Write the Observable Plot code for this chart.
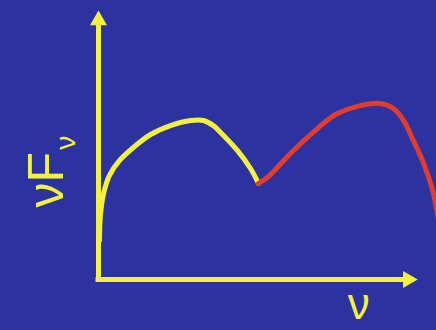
<!DOCTYPE html>
<html><head><meta charset="utf-8">
<script src="https://cdn.jsdelivr.net/npm/d3@7"></script>
<script src="https://cdn.jsdelivr.net/npm/@observablehq/plot@0.6"></script>
<style>html,body{margin:0;padding:0;background:#2d32a1;overflow:hidden}</style>
</head><body><div id="chart"></div>
<script>
// synchrotron hump (yellow)
const syncNu   = [0.03, 0.06, 0.16, 0.34, 0.66, 1.09, 1.63, 2.25, 2.88, 3.28, 3.59, 3.91, 4.34, 4.75, 5.00];
const syncFlux = [1.44, 2.37, 3.19, 3.85, 4.41, 4.89, 5.37, 5.70, 5.89, 5.89, 5.70, 5.33, 4.78, 4.11, 3.56];
// inverse-Compton hump (red)
const icNu   = [5.00, 5.28, 6.00, 6.84, 7.41, 8.19, 8.81, 9.22, 9.53, 9.84, 10.16, 10.44, 10.63, 10.81];
const icFlux = [3.56, 3.78, 4.67, 5.59, 6.11, 6.44, 6.52, 6.33, 5.89, 5.15, 4.30, 3.30, 2.19, 1.07];
// axis labels
const xLabel = "ν";
const yLabel = "νF";
const ySub = "ν";

const bg = "#2d32a1", yellow = "#f2f23e", red = "#e23c2c";
const sync = syncNu.map((x, i) => ({x, y: syncFlux[i]}));
const ic = icNu.map((x, i) => ({x, y: icFlux[i]}));

const chart = Plot.plot({
  width: 436, height: 330, margin: 0,
  x: {domain: [0, 10], range: [98, 418], axis: null},
  y: {domain: [0, 10], range: [279, 9], axis: null},
  style: {background: bg, overflow: "hidden"},
  marks: [
    Plot.line(sync, {x: "x", y: "y", stroke: yellow, strokeWidth: 5, curve: "catmull-rom"}),
    Plot.line(ic, {x: "x", y: "y", stroke: red, strokeWidth: 5, curve: "catmull-rom"}),
    Plot.ruleX([0], {y1: 0, y2: 9.5, stroke: yellow, strokeWidth: 5, strokeLinecap: "square"}),
    Plot.ruleY([0], {x1: 0, x2: 9.6, stroke: yellow, strokeWidth: 5, strokeLinecap: "square"}),
    Plot.dot([{x: 0, y: 9.6}], {x: "x", y: "y", symbol: "triangle", r: 6.3, fill: yellow, stroke: "none"}),
    Plot.dot([{x: 9.67, y: 0}], {x: "x", y: "y", symbol: "triangle", r: 6.3, rotate: 90, fill: yellow, stroke: "none"}),
    Plot.text([xLabel], {x: 8.13, y: -1.48, text: d => d, fill: yellow, fontSize: 44, fontFamily: "Liberation Sans", textAnchor: "middle", lineAnchor: "bottom"}),
    Plot.text([yLabel], {x: -1.125, y: 2.67, text: d => d, rotate: -90, fill: yellow, fontSize: 50, fontFamily: "Liberation Sans", textAnchor: "start", lineAnchor: "bottom"}),
    Plot.text([ySub], {x: -0.72, y: 4.81, text: d => d, rotate: -90, fill: yellow, fontSize: 28, fontFamily: "Liberation Sans", textAnchor: "start", lineAnchor: "bottom"})
  ]
});
document.getElementById("chart").appendChild(chart);
</script>
</body></html>
